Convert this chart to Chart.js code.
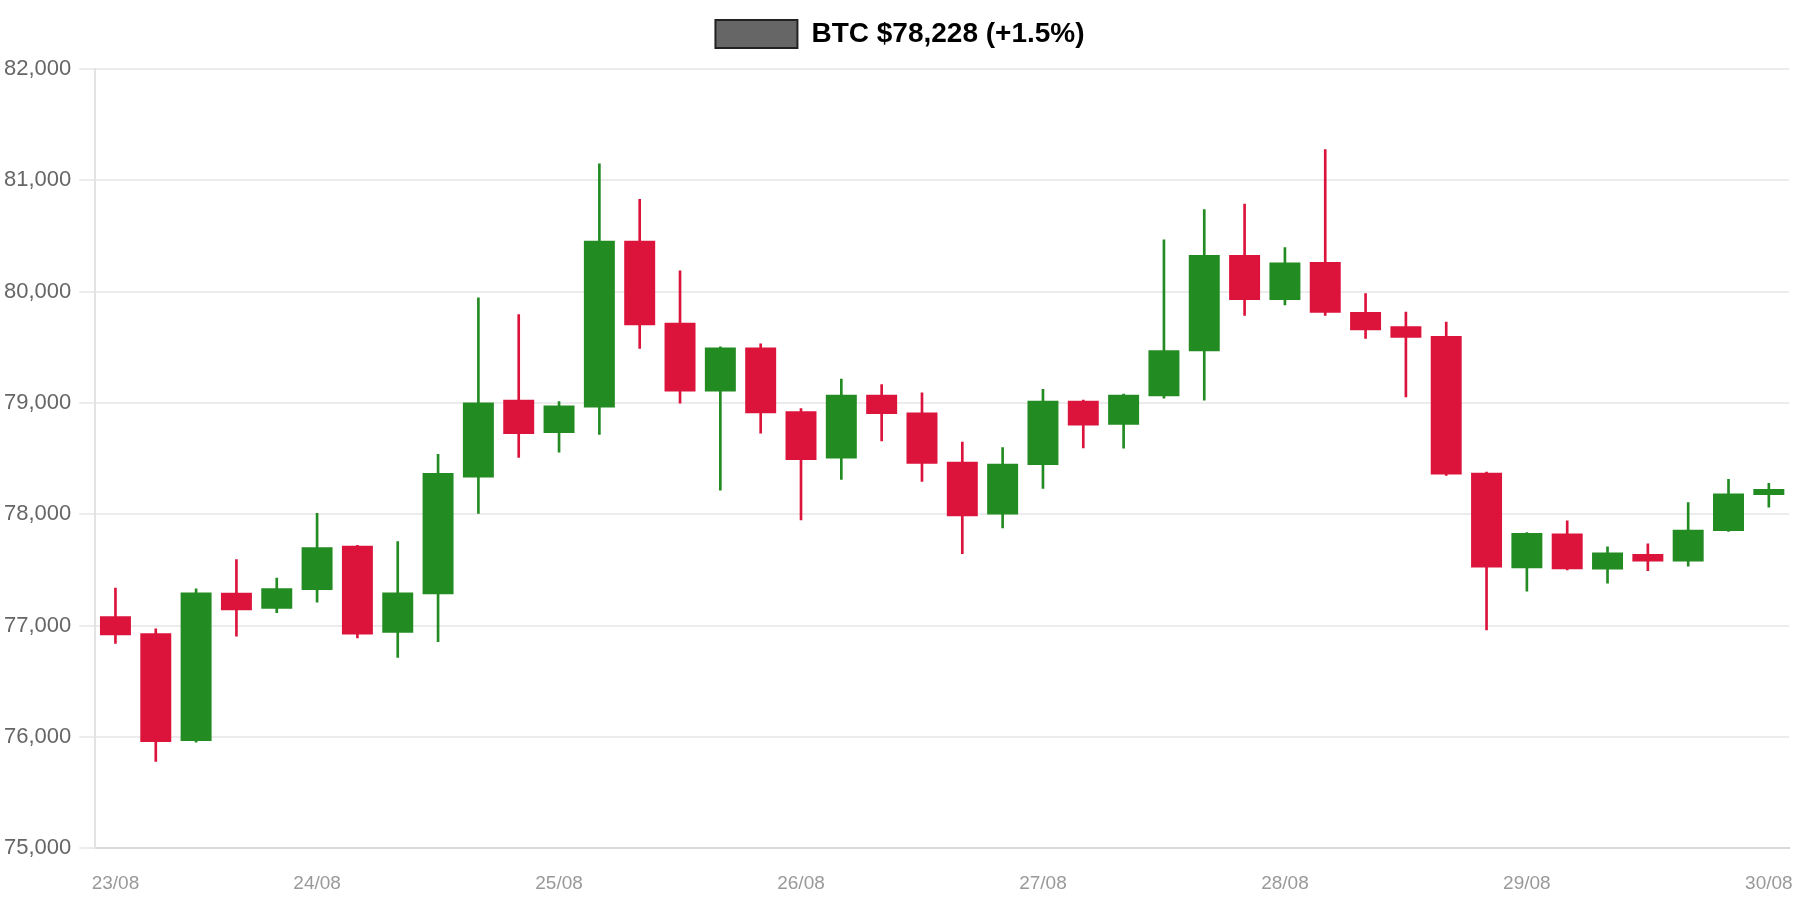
<!DOCTYPE html>
<html>
<head>
<meta charset="utf-8">
<script src="https://cdn.jsdelivr.net/npm/chart.js@4.4.1/dist/chart.umd.min.js"></script>
<style>
  html, body { margin: 0; padding: 0; background: #fff; }
  #wrap { width: 1800px; height: 900px; }
</style>
</head>
<body>
<div id="wrap"><canvas id="graficoBtc"></canvas></div>
<script>
const labels = [
  '23/08 04:00', '23/08 08:00', '23/08 12:00', '23/08 16:00', '23/08 20:00',
  '24/08 00:00', '24/08 04:00', '24/08 08:00', '24/08 12:00', '24/08 16:00', '24/08 20:00',
  '25/08 00:00', '25/08 04:00', '25/08 08:00', '25/08 12:00', '25/08 16:00', '25/08 20:00',
  '26/08 00:00', '26/08 04:00', '26/08 08:00', '26/08 12:00', '26/08 16:00', '26/08 20:00',
  '27/08 00:00', '27/08 04:00', '27/08 08:00', '27/08 12:00', '27/08 16:00', '27/08 20:00',
  '28/08 00:00', '28/08 04:00', '28/08 08:00', '28/08 12:00', '28/08 16:00', '28/08 20:00',
  '29/08 00:00', '29/08 04:00', '29/08 08:00', '29/08 12:00', '29/08 16:00', '29/08 20:00',
  '30/08 00:00'
];
const opens = [
  77083, 76930, 75964, 77294, 77150, 77320, 77717, 76936, 77282, 78331, 79029,
  78731, 78958, 80456, 79720, 79102, 79499, 78926, 78501, 79074, 78914, 78472,
  77998, 78443, 79019, 78805, 79061, 79464, 80328, 79925, 80267, 79816, 79688,
  79602, 78373, 77515, 77828, 77503, 77642, 77575, 77849, 78172
];
const highs = [
  77336, 76971, 77330, 77592, 77426, 78008, 77720, 77755, 78539, 79944, 79794,
  79013, 81147, 80830, 80187, 79505, 79531, 78949, 79214, 79166, 79090, 78648,
  78600, 79122, 79025, 79080, 80466, 80738, 80786, 80395, 81275, 79982, 79816,
  79726, 78378, 77835, 77940, 77708, 77735, 78105, 78313, 78277
];
const lows = [
  76840, 75779, 75952, 76904, 77115, 77211, 76888, 76715, 76856, 78008, 78510,
  78558, 78718, 79490, 78997, 78216, 78728, 77950, 78312, 78658, 78296, 77646,
  77877, 78232, 78597, 78594, 79042, 79026, 79787, 79880, 79787, 79579, 79054,
  78350, 76962, 77310, 77500, 77380, 77494, 77533, 77845, 78063
];
const closes = [
  76914, 75955, 77298, 77138, 77336, 77704, 76920, 77298, 78370, 79003, 78722,
  78978, 80456, 79698, 79102, 79499, 78907, 78488, 79074, 78901, 78453, 77982,
  78453, 79019, 78798, 79074, 79474, 80328, 79925, 80261, 79810, 79653, 79586,
  78357, 77522, 77832, 77506, 77657, 77575, 77861, 78187, 78228
];
const legendText = 'BTC $78,228 (+1.5%)';

const up = '#228b22';
const down = '#dc143c';
const colors = opens.map((o, i) => closes[i] >= o ? up : down);

Chart.defaults.font.family = "'Liberation Sans', Arial, sans-serif";

// a bit more room under the legend, and keep it centred on the canvas
const legendGap = {
  id: 'legendGap',
  beforeInit(chart) {
    const origFit = chart.legend.fit;
    chart.legend.fit = function () {
      origFit.call(this);
      this.height += 11;
    };
  },
  afterLayout(chart) {
    const lg = chart.legend;
    const shift = (chart.width - lg.right - lg.left) / 2;
    lg.left += shift;
    lg.right += shift;
  }
};

const ctx = document.getElementById('graficoBtc');
const btcGraph = new Chart(ctx, {
  type: 'bar',
  data: {
    labels: labels,
    datasets: [{
      label: legendText,
      data: opens.map((o, i) => [o, closes[i]]),
      backgroundColor: colors,
      borderWidth: 0,
      grouped: false,
      barPercentage: 0.96,
      categoryPercentage: 0.8,
      order: 1
    }, {
      label: 'wick',
      data: lows.map((l, i) => [l, highs[i]]),
      backgroundColor: colors,
      borderWidth: 0,
      grouped: false,
      barThickness: 2,
      order: 2
    }]
  },
  options: {
    responsive: true,
    maintainAspectRatio: false,
    animation: false,
    layout: { padding: { left: -4, right: 11, top: 10, bottom: -11 } },
    plugins: {
      tooltip: { enabled: false },
      legend: {
        labels: {
          boxWidth: 82,
          boxHeight: 28,
          padding: 10,
          color: '#222',
          font: { size: 28, weight: 'bold' },
          generateLabels: () => [{
            text: legendText,
            fillStyle: '#666666',
            strokeStyle: '#222222',
            lineWidth: 2,
            datasetIndex: 0
          }]
        }
      }
    },
    scales: {
      x: {
        grid: { display: false },
        border: { color: '#d9d9d9', width: 2 },
        afterFit: (axis) => { axis.paddingRight = 0; },
        ticks: {
          autoSkip: false,
          maxRotation: 0,
          padding: 16,
          color: '#999',
          font: { size: 19 },
          callback: function (value, index) {
            const lab = labels[index];
            if (index === 0 || lab.endsWith('00:00')) {
              return lab.split(' ')[0];
            }
            return '';
          }
        }
      },
      y: {
        min: 75000,
        max: 82000,
        grid: { color: '#ececec', lineWidth: 2, tickLength: 16 },
        border: { color: '#e3e3e3', width: 2 },
        ticks: {
          stepSize: 1000,
          padding: 8,
          color: '#666',
          font: { size: 22 },
          callback: (v) => v.toLocaleString('en-US')
        }
      }
    }
  },
  plugins: [legendGap]
});
</script>
</body>
</html>
